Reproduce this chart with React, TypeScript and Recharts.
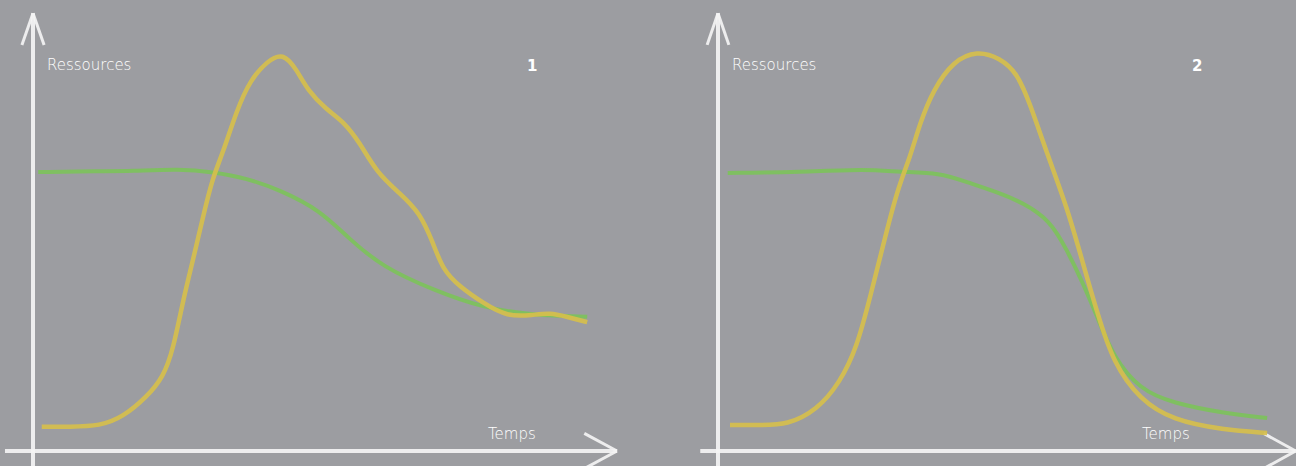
import React from "react";
import { LineChart, Line, XAxis, YAxis, ReferenceLine } from "recharts";

// units: t = temps (0-100 along the x axis), r = ressources (0-100 along the y axis)
const yellow1 = [
  { t: 1.5, r: 5.5 }, { t: 6.3, r: 5.5 }, { t: 11.5, r: 5.7 }, { t: 15.4, r: 7.7 },
  { t: 19.5, r: 12.3 }, { t: 22.3, r: 16.8 }, { t: 24.0, r: 23.0 }, { t: 25.7, r: 34.3 },
  { t: 27.4, r: 43.4 }, { t: 29.1, r: 53.2 }, { t: 30.8, r: 62.3 }, { t: 32.4, r: 67.3 },
  { t: 34.9, r: 77.5 }, { t: 37.2, r: 84.3 }, { t: 40.1, r: 88.6 }, { t: 42.8, r: 90.6 },
  { t: 45.2, r: 86.6 }, { t: 47.0, r: 82.0 }, { t: 50.3, r: 77.5 }, { t: 53.1, r: 75.0 },
  { t: 56.0, r: 70.0 }, { t: 58.9, r: 63.2 }, { t: 62.8, r: 58.6 }, { t: 66.3, r: 54.1 },
  { t: 68.5, r: 47.3 }, { t: 70.2, r: 41.1 }, { t: 73.1, r: 37.3 }, { t: 77.1, r: 33.6 },
  { t: 81.2, r: 30.5 }, { t: 85.6, r: 30.9 }, { t: 88.5, r: 31.4 }, { t: 91.4, r: 30.5 },
  { t: 94.9, r: 29.3 },
];

const green1 = [
  { t: 0.9, r: 63.4 }, { t: 11.5, r: 63.6 }, { t: 16.6, r: 63.6 }, { t: 25.2, r: 64.1 },
  { t: 30.8, r: 63.4 }, { t: 36.6, r: 62.0 }, { t: 42.3, r: 59.3 }, { t: 49.1, r: 54.8 },
  { t: 54.3, r: 48.0 }, { t: 59.9, r: 41.8 }, { t: 68.5, r: 36.6 }, { t: 77.1, r: 32.5 },
  { t: 85.6, r: 30.9 }, { t: 94.9, r: 30.5 },
];

const yellow2 = [
  { t: 2.1, r: 5.9 }, { t: 7.3, r: 5.9 }, { t: 12.1, r: 5.9 }, { t: 17.3, r: 9.3 },
  { t: 21.3, r: 15.5 }, { t: 24.3, r: 23.6 }, { t: 26.6, r: 35.0 }, { t: 28.8, r: 46.4 },
  { t: 31.3, r: 59.3 }, { t: 33.6, r: 66.8 }, { t: 35.3, r: 74.5 }, { t: 37.6, r: 82.0 },
  { t: 41.1, r: 88.6 }, { t: 45.3, r: 91.0 }, { t: 49.3, r: 89.3 }, { t: 52.3, r: 85.9 },
  { t: 54.5, r: 79.1 }, { t: 57.5, r: 67.7 }, { t: 61.0, r: 55.5 }, { t: 63.8, r: 42.7 },
  { t: 66.3, r: 31.4 }, { t: 69.1, r: 20.0 }, { t: 73.8, r: 11.6 }, { t: 79.5, r: 7.0 },
  { t: 88.3, r: 4.8 }, { t: 96.0, r: 4.1 },
];

const green2 = [
  { t: 1.7, r: 63.2 }, { t: 14.3, r: 63.4 }, { t: 26.0, r: 64.1 }, { t: 31.8, r: 63.4 },
  { t: 38.8, r: 63.2 }, { t: 43.5, r: 61.1 }, { t: 49.3, r: 58.6 }, { t: 53.3, r: 56.4 },
  { t: 58.0, r: 52.5 }, { t: 61.0, r: 45.7 }, { t: 63.8, r: 38.2 }, { t: 66.3, r: 30.5 },
  { t: 69.1, r: 21.4 }, { t: 73.8, r: 13.9 }, { t: 79.5, r: 10.9 }, { t: 88.3, r: 8.6 },
  { t: 96.0, r: 7.5 },
];

const axisLabels = { y: "Ressources", x: "Temps" };
const panelNumbers = ["1", "2"];

const BG = "#9c9da1";
const CHALK = "#f4f4f4";
const YELLOW = "#d6bf4c";
const GREEN = "#7cc35a";

const labelFont = "'DejaVu Sans', sans-serif";

function Panel({ yellow, green, margin, xStart, xEnd, num, numLeft, tempsLeft }) {
  const chalk = { stroke: CHALK, strokeWidth: 4, strokeOpacity: 0.92, ifOverflow: "visible" as const };
  return (
    <div style={{ position: "relative", width: 648, height: 466 }}>
      <LineChart width={648} height={466} margin={margin}>
        <XAxis type="number" dataKey="t" domain={[0, 100]} hide />
        <YAxis type="number" dataKey="r" domain={[0, 100]} hide />
        {/* hand drawn axes */}
        <ReferenceLine segment={[{ x: 0, y: -3.4 }, { x: 0, y: 99.5 }]} {...chalk} />
        <ReferenceLine segment={[{ x: -1.9, y: 92.3 }, { x: 0, y: 99.5 }]} {...chalk} strokeWidth={3} />
        <ReferenceLine segment={[{ x: 1.9, y: 92.3 }, { x: 0, y: 99.5 }]} {...chalk} strokeWidth={3} />
        <ReferenceLine segment={[{ x: xStart, y: 0 }, { x: xEnd, y: 0 }]} {...chalk} />
        <ReferenceLine segment={[{ x: xEnd - 5.6, y: 4 }, { x: xEnd, y: 0 }]} {...chalk} strokeWidth={3} />
        <ReferenceLine segment={[{ x: xEnd - 5.6, y: -4 }, { x: xEnd, y: 0 }]} {...chalk} strokeWidth={3} />
        <Line data={green} dataKey="r" type="basis" stroke={GREEN} strokeWidth={4} strokeOpacity={0.9} dot={false} isAnimationActive={false} />
        <Line data={yellow} dataKey="r" type="basis" stroke={YELLOW} strokeWidth={4.5} strokeOpacity={0.92} dot={false} isAnimationActive={false} />
      </LineChart>
      <div style={{ position: "absolute", left: margin.left + 14, top: 56, color: "#fff", fontFamily: labelFont, fontSize: 15, fontWeight: 300 }}>
        {axisLabels.y}
      </div>
      <div style={{ position: "absolute", left: tempsLeft, top: 425, color: "#fff", fontFamily: labelFont, fontSize: 15, fontWeight: 300 }}>
        {axisLabels.x}
      </div>
      <div style={{ position: "absolute", left: numLeft, top: 57, color: "#fff", fontFamily: labelFont, fontSize: 15, fontWeight: 700 }}>
        {num}
      </div>
    </div>
  );
}

export default function App() {
  return (
    <div style={{ position: "absolute", left: 0, top: 0, width: 1296, height: 466, background: BG, display: "flex", overflow: "hidden" }}>
      <Panel
        yellow={yellow1}
        green={green1}
        margin={{ top: 11, right: 31, bottom: 15, left: 33 }}
        xStart={-4.8}
        xEnd={100}
        num={panelNumbers[0]}
        numLeft={527}
        tempsLeft={488}
      />
      <Panel
        yellow={yellow2}
        green={green2}
        margin={{ top: 11, right: 6, bottom: 15, left: 70 }}
        xStart={-3.1}
        xEnd={101}
        num={panelNumbers[1]}
        numLeft={544}
        tempsLeft={494}
      />
    </div>
  );
}
